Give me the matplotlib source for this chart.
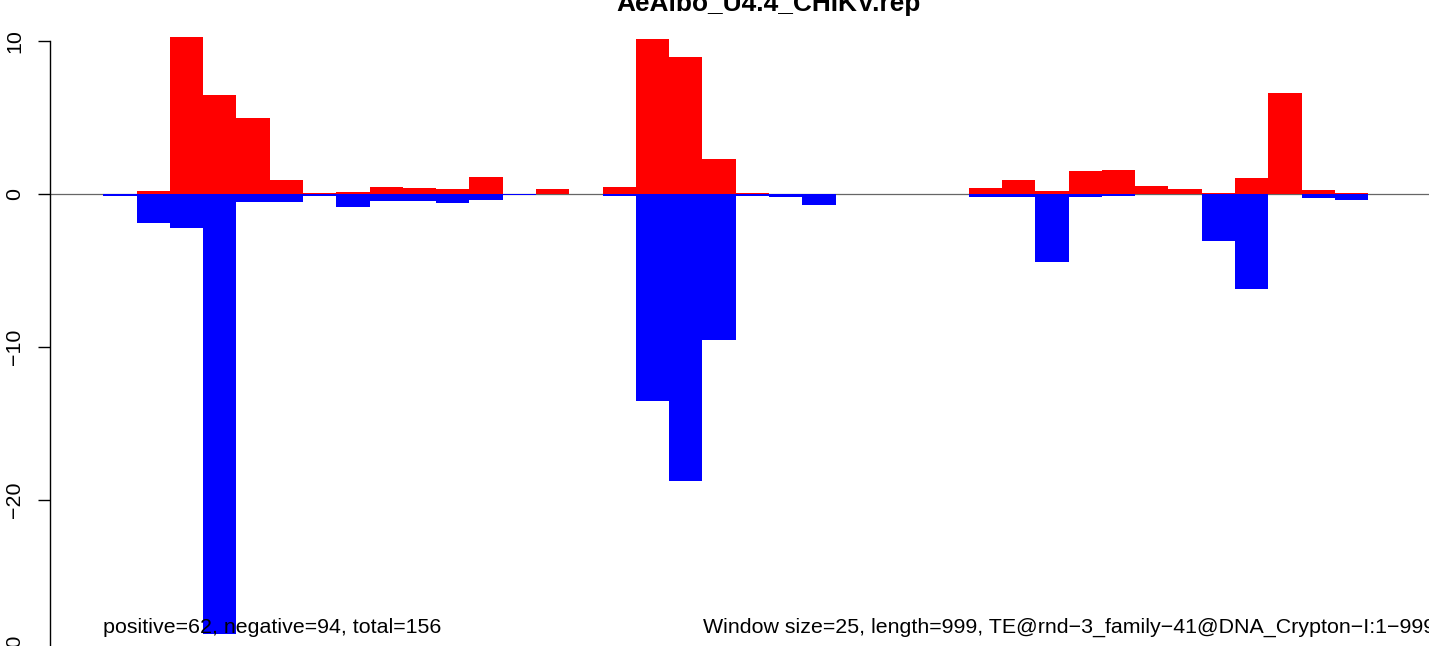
import matplotlib
matplotlib.use("Agg")
import matplotlib.pyplot as plt
import numpy as np

plt.rcParams['font.family'] = ['Liberation Sans', 'DejaVu Sans']

title = "AeAlbo_U4.4_CHIKV.rep"
window_size = 25
seq_length = 999
n_pos, n_neg = 62, 94
te_name = "TE@rnd\u22123_family\u221241@DNA_Crypton\u2212I:1\u2212999"

# per-window coverage, 40 windows of 25 bp
pos = [0, 0.22, 10.28, 6.48, 4.98, 0.92, 0.05, 0.15, 0.47, 0.40,
       0.33, 1.13, 0, 0.35, 0, 0.47, 10.15, 8.97, 2.29, 0.08,
       0, 0, 0, 0, 0, 0, 0.41, 0.93, 0.17, 1.52,
       1.60, 0.55, 0.35, 0.05, 1.07, 6.62, 0.28, 0.08, 0, 0]
neg = [-0.13, -1.88, -2.23, -28.8, -0.55, -0.55, -0.10, -0.83, -0.43, -0.43,
       -0.58, -0.36, -0.07, 0, 0, -0.10, -13.53, -18.77, -9.54, -0.10,
       -0.20, -0.69, 0, 0, 0, 0, -0.17, -0.17, -4.43, -0.17,
       -0.10, 0, 0, -3.06, -6.20, 0, -0.25, -0.40, 0, 0]

starts = np.arange(len(pos)) * window_size

fig = plt.figure(figsize=(14.29, 6.46), dpi=100)
# plot region is wider/taller than the saved picture (original was cropped)
ax = fig.add_axes([50 / 1429, -0.0193, 1438 / 1429, 1.0004])
ax.set_xlim(-40, 1040)
ax.set_ylim(-30.4, 11.9)

ax.axhline(0, color="#666666", lw=0.9, zorder=1)
ax.bar(starts, neg, width=window_size, align="edge", color="blue", lw=0, zorder=2)
ax.bar(starts, pos, width=window_size, align="edge", color="red", lw=0, zorder=3)

for s in ["top", "right", "bottom"]:
    ax.spines[s].set_visible(False)
ax.spines["left"].set_bounds(-30, 10)
ax.spines["left"].set_linewidth(1.0)
ax.set_xticks([])
ax.set_yticks([10, 0, -10, -20, -30])
ax.tick_params(axis="y", length=8.6, width=1.0, pad=10, labelsize=15.4)
for lab in ax.get_yticklabels():
    lab.set_rotation(90)
    lab.set_va("center")

ax.text(0, -28.72, f"positive={n_pos}, negative={n_neg}, total={n_pos + n_neg}",
        ha="left", va="baseline", fontsize=15.4, zorder=5)
ax.text(1000, -28.72, f"Window size={window_size}, length={seq_length}, {te_name}",
        ha="right", va="baseline", fontsize=15.4, zorder=5)

fig.text((50 + 1438 / 2) / 1429, (646 - 10.5) / 646, title,
         ha="center", va="baseline", fontsize=18.9, fontweight="bold")

fig.savefig("out.png", dpi=100)
